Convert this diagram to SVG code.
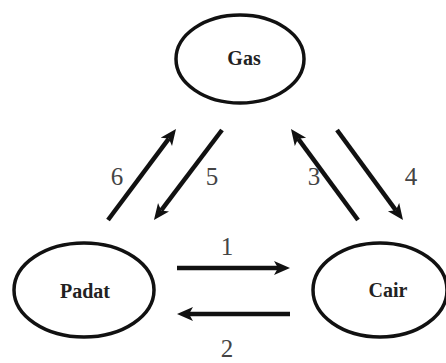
<svg xmlns="http://www.w3.org/2000/svg" width="446" height="363" viewBox="0 0 446 363">
<style>
.node ellipse{fill:#fff;stroke:#111;stroke-width:3.5}
.node text{font-family:"Liberation Serif",serif;font-weight:bold;font-size:20px;fill:#222;text-anchor:middle}
.edge line{stroke:#111;stroke-width:4.5;marker-end:url(#ah)}
.lbl{font-family:"Liberation Serif",serif;font-size:25px;fill:#444;text-anchor:middle}
</style>
<defs>
<marker id="ah" markerUnits="userSpaceOnUse" markerWidth="18" markerHeight="16" viewBox="0 0 18 16" refX="4" refY="7" orient="auto">
<path d="M0,0 L16,7 L0,14 L4,7 z" fill="#111"/>
</marker>
</defs>
<rect width="446" height="363" fill="#fff"/>
<g id="gas" class="node"><ellipse cx="240" cy="59" rx="64" ry="44"/><text x="244" y="65">Gas</text></g>
<g id="padat" class="node"><ellipse cx="84" cy="290" rx="70" ry="47"/><text x="85" y="298">Padat</text></g>
<g id="cair" class="node"><ellipse cx="380" cy="290" rx="67" ry="47"/><text x="388" y="297">Cair</text></g>
<g id="connectors" class="edge">
<line x1="177" y1="268" x2="278" y2="268"/>
<line x1="290" y1="314" x2="189" y2="314"/>
<line x1="358" y1="220" x2="298.1" y2="138.7"/>
<line x1="337" y1="130" x2="395.9" y2="210.3"/>
<line x1="222" y1="130" x2="161.2" y2="210.4"/>
<line x1="108" y1="220" x2="168.8" y2="138.6"/>
</g>
<g id="labels">
<text class="lbl" x="227" y="255">1</text>
<text class="lbl" x="227" y="357">2</text>
<text class="lbl" x="314" y="185">3</text>
<text class="lbl" x="411" y="185">4</text>
<text class="lbl" x="212" y="185">5</text>
<text class="lbl" x="117" y="185">6</text>
</g>
</svg>
